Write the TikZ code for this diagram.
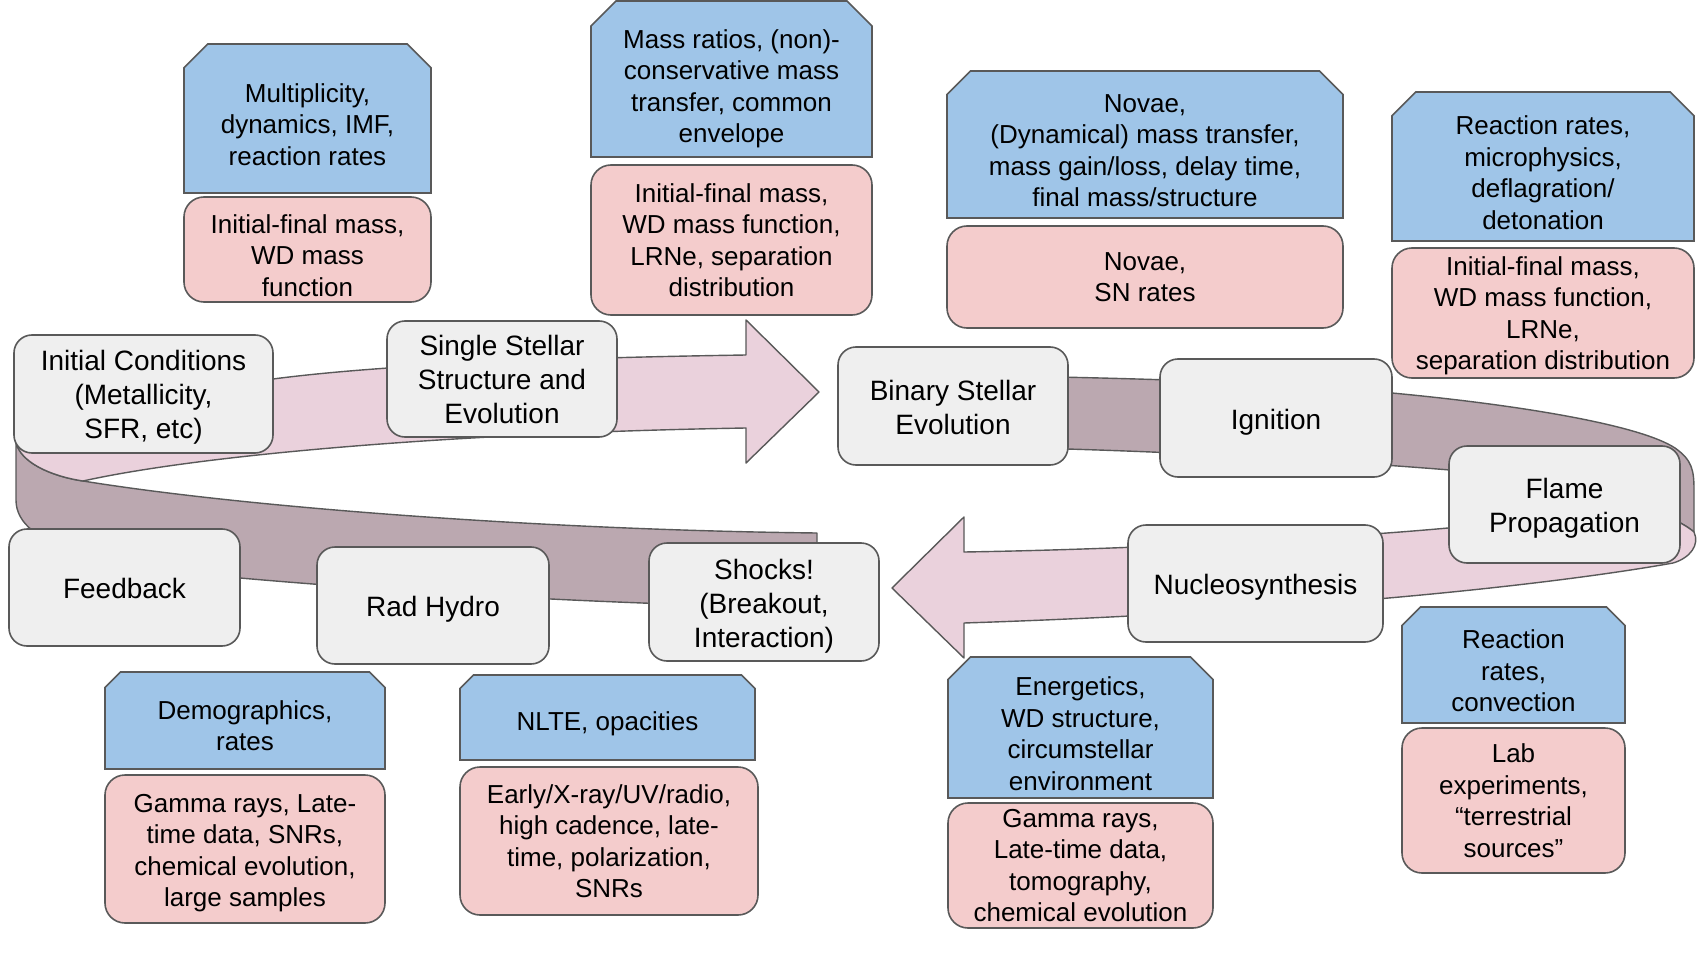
\documentclass[tikz,border=0pt]{standalone}
\usepackage{fontspec}
\setmainfont{Liberation Sans}
\definecolor{lineg}{RGB}{89,89,89}
\definecolor{grayf}{RGB}{239,239,239}
\definecolor{pinkf}{RGB}{244,204,204}
\definecolor{bluef}{RGB}{159,197,232}
\definecolor{ribL}{RGB}{234,209,220}
\definecolor{ribD}{RGB}{187,168,176}
\tikzset{
  outl/.style={draw=lineg, line width=1.6pt},
  graybox/.style={outl, fill=grayf, rounded corners=18pt, inner sep=0pt},
  pinkbox/.style={outl, fill=pinkf, rounded corners=20pt, inner sep=0pt},
  graytext/.style={align=center, inner sep=0pt, font=\fontsize{28}{34}\selectfont},
  smalltext/.style={align=center, inner sep=0pt, font=\fontsize{26}{31.5}\selectfont},
  blueshape/.style={outl, fill=bluef, line join=miter},
  ribbonlight/.style={draw=lineg, line width=1.4pt, fill=ribL, line join=round},
  ribbondark/.style={draw=lineg, line width=1.4pt, fill=ribD, line join=round},
}
% name, box style, text style, text shift, x1, y1, x2, y2, text
\newcommand\roundbox[9]{%
  \node[#2, minimum width={#7-#5}, minimum height={#8-#6}] (#1) at ({(#5+#7)/2},{(#6+#8)/2}) {};
  \node[#3] (#1t) at ({(#5+#7)/2},{(#6+#8)/2+#4}) {#9};}
% name, text shift, x1, y1, x2, y2, text
\newcommand\snipbox[7]{%
  \pgfmathsetmacro\snipsz{0.16*(#6-#4)}%
  \draw[blueshape] (#3,#4+\snipsz) -- (#3+\snipsz,#4) -- (#5-\snipsz,#4) -- (#5,#4+\snipsz) -- (#5,#6) -- (#3,#6) -- cycle;
  \node[smalltext] (#1) at ({(#3+#5)/2},{(#4+#6)/2+#2}) {#7};}
\begin{document}
\begin{tikzpicture}[x=1pt,y=-1pt]
\useasboundingbox (0,0) rectangle (1706,955);
\fill[white] (0,0) rectangle (1706,955);

% ---- left loop ribbon ----
\draw[ribbondark] (817,533) -- (817,608) .. controls (600,604) and (400,592) .. (240,578)
  .. controls (110,566) and (16,548) .. (16,500) -- (16,442)
  .. controls (20,462) and (50,476) .. (83,481)
  .. controls (250,508) and (550,530) .. (817,533) -- cycle;
\draw[ribbonlight] (746,355) .. controls (550,358) and (380,365) .. (273,379)
  .. controls (120,398) and (16,420) .. (16,442)
  .. controls (20,462) and (50,476) .. (83,481)
  .. controls (200,455) and (450,433) .. (746,428)
  -- (746,463) -- (819,392) -- (746,320) -- cycle;

% ---- right loop ribbon ----
\draw[ribbondark] (900,375) .. controls (1100,376) and (1300,383) .. (1392,393)
  .. controls (1520,405) and (1640,425) .. (1675,448)
  .. controls (1692,460) and (1694,470) .. (1694,490) -- (1694,532)
  .. controls (1680,520) and (1650,508) .. (1620,505)
  .. controls (1560,480) and (1500,472) .. (1450,470)
  .. controls (1300,458) and (1100,447) .. (900,446) -- cycle;
\draw[ribbonlight] (1620,505) .. controls (1650,508) and (1680,520) .. (1694,532)
  .. controls (1700,545) and (1690,558) .. (1673,563)
  .. controls (1550,585) and (1300,612) .. (964,623)
  -- (964,658) -- (892,588) -- (964,517) -- (964,552)
  .. controls (1150,549) and (1350,537) .. (1448,528)
  .. controls (1530,520) and (1590,510) .. (1620,505) -- cycle;

% ---- process boxes ----
\roundbox{init}{graybox}{graytext}{3}{14}{335}{273}{453}{Initial Conditions\\(Metallicity,\\SFR, etc)}
\roundbox{single}{graybox}{graytext}{0}{387}{321}{617}{437}{Single Stellar\\Structure and\\Evolution}
\roundbox{binary}{graybox}{graytext}{1}{838}{347}{1068}{465}{Binary Stellar\\Evolution}
\roundbox{ignition}{graybox}{graytext}{4}{1160}{359}{1392}{477}{Ignition}
\roundbox{flame}{graybox}{graytext}{4}{1449}{446}{1680}{563}{Flame\\Propagation}
\roundbox{nucleo}{graybox}{graytext}{4}{1128}{525}{1383}{642}{Nucleosynthesis}
\roundbox{shocks}{graybox}{graytext}{4}{649}{543}{879}{661}{Shocks!\\(Breakout,\\Interaction)}
\roundbox{radhydro}{graybox}{graytext}{4}{317}{547}{549}{664}{Rad Hydro}
\roundbox{feedback}{graybox}{graytext}{1}{9}{529}{240}{646}{Feedback}

% ---- blue (theory) boxes ----
\snipbox{b1}{6}{184}{44}{431}{193}{Multiplicity,\\dynamics, IMF,\\reaction rates}
\snipbox{b2}{10}{591}{1}{872}{157}{Mass ratios, (non)-\\conservative mass\\transfer, common\\envelope}
\snipbox{b3}{6}{947}{71}{1343}{218}{Novae,\\(Dynamical) mass transfer,\\mass gain/loss, delay time,\\final mass/structure}
\snipbox{b4}{6}{1392}{92}{1694}{241}{Reaction rates,\\microphysics,\\deflagration/\\detonation}
\snipbox{b5}{6}{1402}{607}{1625}{723}{Reaction\\rates,\\convection}
\snipbox{b6}{6}{948}{657}{1213}{798}{Energetics,\\WD structure,\\circumstellar\\environment}
\snipbox{b7}{6}{460}{675}{755}{760}{NLTE, opacities}
\snipbox{b8}{5}{105}{672}{385}{769}{Demographics,\\rates}

% ---- pink (observation) boxes ----
\roundbox{p1}{pinkbox}{smalltext}{6}{184}{197}{431}{302}{Initial-final mass,\\WD mass\\function}
\roundbox{p2}{pinkbox}{smalltext}{0}{591}{165}{872}{315}{Initial-final mass,\\WD mass function,\\LRNe, separation\\distribution}
\roundbox{p3}{pinkbox}{smalltext}{0}{947}{226}{1343}{328}{Novae,\\SN rates}
\roundbox{p4}{pinkbox}{smalltext}{3}{1392}{248}{1694}{378}{Initial-final mass,\\WD mass function,\\LRNe,\\separation distribution}
\roundbox{p5}{pinkbox}{smalltext}{0}{1402}{728}{1625}{873}{Lab\\experiments,\\“terrestrial\\sources”}
\roundbox{p6}{pinkbox}{smalltext}{0}{948}{803}{1213}{928}{Gamma rays,\\Late-time data,\\tomography,\\chemical evolution}
\roundbox{p7}{pinkbox}{smalltext}{0}{460}{767}{758}{915}{Early/X-ray/UV/radio,\\high cadence, late-\\time, polarization,\\SNRs}
\roundbox{p8}{pinkbox}{smalltext}{4}{105}{775}{385}{923}{Gamma rays, Late-\\time data, SNRs,\\chemical evolution,\\large samples}
\end{tikzpicture}
\end{document}
